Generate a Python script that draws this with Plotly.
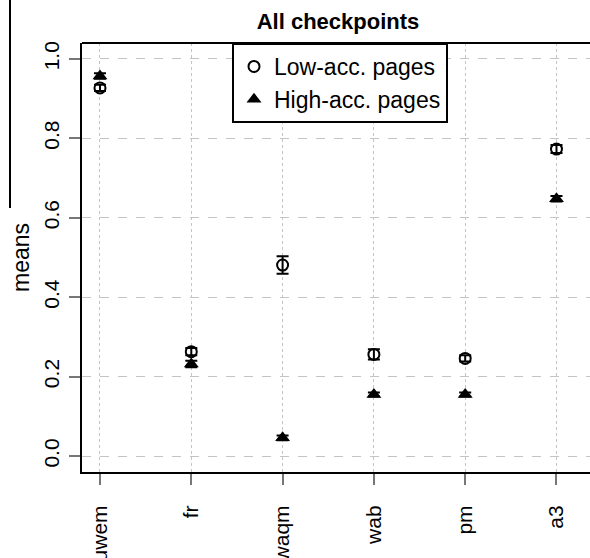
import plotly.graph_objects as go

categories = ["uwem", "fr", "waqm", "wab", "pm", "a3"]
low_means = [0.927, 0.263, 0.481, 0.256, 0.246, 0.773]
low_err = [0.008, 0.009, 0.022, 0.013, 0.008, 0.010]
high_means = [0.957, 0.232, 0.046, 0.155, 0.155, 0.648]
high_err = [0.007, 0.008, 0.006, 0.005, 0.005, 0.007]
y_ticks = [0.0, 0.2, 0.4, 0.6, 0.8, 1.0]
y_tick_labels = ["0.0", "0.2", "0.4", "0.6", "0.8", "1.0"]

xpos = list(range(1, len(categories) + 1))
FONT = "Liberation Sans, Arial, Helvetica, sans-serif"

fig = go.Figure()
fig.add_trace(go.Scatter(
    x=xpos, y=low_means, mode="markers", name="Low-acc. pages",
    marker=dict(symbol="circle-open", size=11, color="black", line=dict(width=2, color="black")),
    error_y=dict(type="data", array=low_err, visible=True, color="black", thickness=2, width=6),
))
fig.add_trace(go.Scatter(
    x=xpos, y=high_means, mode="markers", name="High-acc. pages",
    marker=dict(symbol="triangle-up", size=13, color="black"),
    error_y=dict(type="data", array=high_err, visible=True, color="black", thickness=2, width=6),
))

ml, mt, mb, W, H = 82, 43, 86, 590, 558
pw = W - ml
ph = H - mt - mb

fig.update_layout(
    width=W, height=H,
    margin=dict(l=ml, r=0, t=mt, b=mb, autoexpand=False),
    paper_bgcolor="white", plot_bgcolor="white",
    font=dict(family=FONT, color="black"),
    title=dict(text="<b>All checkpoints</b>", x=338 / W, xanchor="center",
               y=1 - 21 / H, yanchor="middle", font=dict(size=22, family=FONT, color="black")),
    showlegend=True,
    legend=dict(x=(232 - ml) / pw, y=1, xanchor="left", yanchor="top",
                bordercolor="black", borderwidth=2, bgcolor="white",
                font=dict(size=23, family=FONT, color="black"),
                itemwidth=30, tracegroupgap=0),
    xaxis=dict(range=[0.803, 6.367], tickmode="array", tickvals=xpos, ticktext=categories,
               tickangle=-90, showgrid=True, gridcolor="#c4c4c4", griddash="dot", gridwidth=1,
               showline=True, linecolor="black", linewidth=2, zeroline=False,
               ticks="outside", ticklen=11, tickwidth=1.5, tickcolor="#777777",
               ticklabelstandoff=12, tickfont=dict(size=21, family=FONT, color="black")),
    yaxis=dict(range=[-0.04, 1.04], tickmode="array", tickvals=y_ticks, ticktext=y_tick_labels,
               tickangle=-90, showgrid=True, gridcolor="#c4c4c4", griddash="dash", gridwidth=1,
               showline=True, linecolor="black", linewidth=2, zeroline=False,
               ticks="outside", ticklen=11, tickwidth=1.5, tickcolor="#777777",
               ticklabelstandoff=2,
               tickfont=dict(size=21, family=FONT, color="black"),
               title=dict(text="means", font=dict(size=23, family=FONT, color="black"), standoff=4)),
)

# top border of the frame
fig.add_shape(type="line", xref="paper", yref="paper", x0=0, x1=1, y0=1, y1=1,
              line=dict(color="black", width=2))
# stray vertical line at the far left of the figure
fig.add_shape(type="line", xref="paper", yref="paper",
              x0=(10 - ml) / pw, x1=(10 - ml) / pw,
              y0=(H - mb - 208) / ph, y1=(H - mb) / ph,
              line=dict(color="black", width=2))

fig.write_html("out.html")
